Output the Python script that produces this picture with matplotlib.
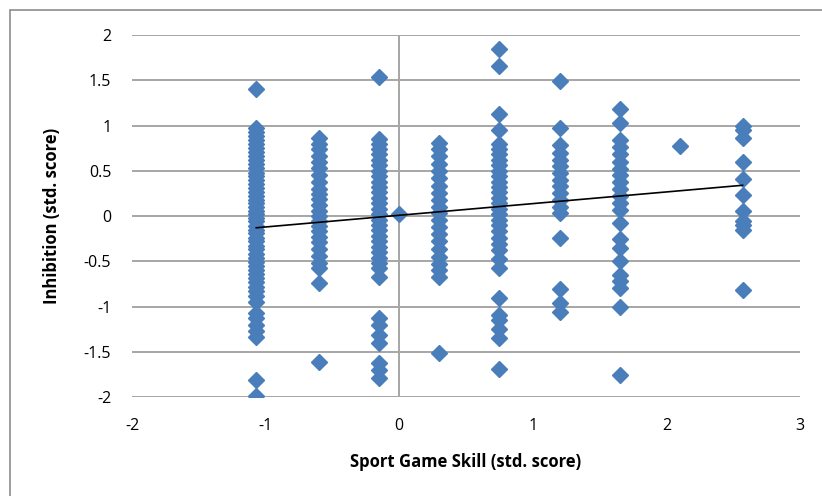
import numpy as np
import matplotlib.pyplot as plt
from matplotlib.patches import Rectangle

# skill levels (x columns) and inhibition scores read per column
skill_levels = [-1.07, -0.6, -0.15, 0.0, 0.3, 0.75, 1.2, 1.65, 2.1, 2.57]

inhib_m107 = [1.40, 0.97, 0.93, 0.88, 0.84, 0.80, 0.75, 0.71, 0.66, 0.62, 0.58, 0.53,
              0.48, 0.44, 0.40, 0.35, 0.31, 0.27, 0.22, 0.18, 0.14, 0.10, 0.06, 0.02,
              -0.02, -0.06, -0.11, -0.15, -0.19, -0.24, -0.28, -0.33, -0.37, -0.42,
              -0.46, -0.51, -0.55, -0.60, -0.64, -0.69, -0.73, -0.78, -0.83, -0.88,
              -0.95, -1.07, -1.13, -1.20, -1.27, -1.34, -1.81, -1.99]
inhib_m060 = [0.86, 0.80, 0.74, 0.66, 0.60, 0.53, 0.45, 0.38, 0.30, 0.24, 0.19, 0.12,
              0.06, 0.00, -0.05, -0.11, -0.17, -0.23, -0.29, -0.36, -0.44, -0.52,
              -0.57, -0.74, -1.61]
inhib_m015 = [1.54, 0.85, 0.80, 0.74, 0.68, 0.62, 0.56, 0.50, 0.44, 0.38, 0.32, 0.26,
              0.20, 0.14, 0.08, 0.02, -0.04, -0.10, -0.16, -0.22, -0.28, -0.34, -0.40,
              -0.46, -0.52, -0.57, -0.67, -1.13, -1.20, -1.32, -1.40, -1.62, -1.70,
              -1.79]
inhib_000 = [0.02]
inhib_030 = [0.81, 0.74, 0.66, 0.58, 0.50, 0.42, 0.33, 0.25, 0.18, 0.10, 0.03, -0.04,
             -0.12, -0.20, -0.28, -0.37, -0.45, -0.53, -0.60, -0.67, -1.51]
inhib_075 = [1.84, 1.66, 1.13, 0.95, 0.80, 0.74, 0.68, 0.62, 0.56, 0.50, 0.44, 0.38,
             0.32, 0.26, 0.20, 0.14, 0.08, 0.02, -0.04, -0.10, -0.17, -0.24, -0.31,
             -0.38, -0.47, -0.57, -0.91, -1.09, -1.15, -1.25, -1.35, -1.69]
inhib_120 = [1.49, 0.97, 0.78, 0.70, 0.62, 0.55, 0.48, 0.40, 0.33, 0.25, 0.18, 0.10,
             0.03, -0.24, -0.81, -0.96, -1.06]
inhib_165 = [1.18, 1.03, 0.84, 0.76, 0.68, 0.60, 0.52, 0.45, 0.38, 0.30, 0.22, 0.14,
             0.07, -0.08, -0.25, -0.35, -0.50, -0.65, -0.72, -0.80, -1.01, -1.76]
inhib_210 = [0.77]
inhib_257 = [1.00, 0.95, 0.86, 0.60, 0.41, 0.23, 0.05, -0.05, -0.10, -0.15, -0.82]

columns = [inhib_m107, inhib_m060, inhib_m015, inhib_000, inhib_030,
           inhib_075, inhib_120, inhib_165, inhib_210, inhib_257]

# linear trend
trend_slope = 0.129
trend_intercept = 0.008

x = np.concatenate([[s] * len(c) for s, c in zip(skill_levels, columns)])
y = np.concatenate(columns)

plt.rcParams['font.family'] = ['Open Sans', 'DejaVu Sans']

fig = plt.figure(figsize=(8.22, 4.96), dpi=100)
ax = fig.add_axes([0.1606, 0.1996, 0.8127, 0.7298])

# chart border
fig.patches.append(Rectangle((10 / 822, -0.1), 1.2, 1.1 - 10 / 496,
                             transform=fig.transFigure, fill=False,
                             edgecolor='#8c8c8c', linewidth=1.2))

ax.set_xlim(-2, 3)
ax.set_ylim(-2, 2)
ax.set_yticks(np.arange(-2, 2.01, 0.5))
ax.set_yticklabels(['-2', '-1.5', '-1', '-0.5', '0', '0.5', '1', '1.5', '2'])
ax.set_xticks([-2, -1, 0, 1, 2, 3])
ax.set_xticklabels(['-2', '-1', '0', '1', '2', '3'])

ax.grid(axis='y', color='#a6a6a6', linewidth=1.4)
ax.set_axisbelow(True)
for sp in ax.spines.values():
    sp.set_visible(False)
ax.axvline(0, color='#a6a6a6', linewidth=1.4, zorder=0.5)
ax.tick_params(length=0, labelsize=11.5)
ax.tick_params(axis='x', pad=15)
ax.tick_params(axis='y', pad=15)

ax.plot(x, y, linestyle='none', marker='D', markersize=8.5,
        color='#4a7ebb', zorder=2)

xt = np.array([min(skill_levels), max(skill_levels)])
ax.plot(xt, trend_slope * xt + trend_intercept, color='black', linewidth=1.2, zorder=3)

ax.set_xlabel('Sport Game Skill (std. score)', fontsize=12, fontweight='bold', labelpad=14)
ax.set_ylabel('Inhibition (std. score)', fontsize=12, fontweight='bold', labelpad=16)

fig.savefig('out.png', dpi=100)
